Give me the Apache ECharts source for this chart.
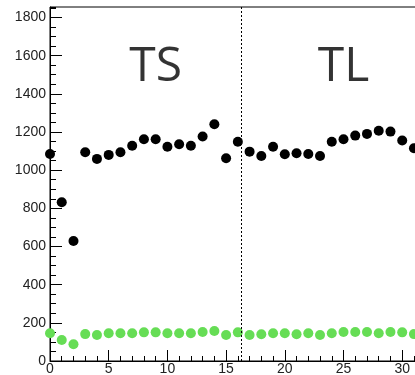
<!DOCTYPE html>
<html>
<head>
<meta charset="utf-8">
<script src="https://cdn.jsdelivr.net/npm/echarts@6/dist/echarts.min.js"></script>
<style>
  html, body { margin: 0; padding: 0; background: #fff; }
  #chart { width: 415px; height: 375px; }
</style>
</head>
<body>
<div id="chart"></div>
<script>
// Run index on the x axis
const runIndex = [0, 1, 2, 3, 4, 5, 6, 7, 8, 9, 10, 11, 12, 13, 14, 15,
                  16, 17, 18, 19, 20, 21, 22, 23, 24, 25, 26, 27, 28, 29, 30, 31];
// Total rate per run (black markers)
const totalRate = [1085, 832, 629, 1094, 1059, 1080, 1094, 1128, 1162, 1162, 1123, 1136,
                   1128, 1176, 1241, 1062, 1149, 1097, 1074, 1123, 1083, 1089, 1085, 1074,
                   1149, 1162, 1181, 1190, 1207, 1202, 1155, 1115];
// Selected rate per run (green markers)
const selectedRate = [145, 110, 88, 141, 136, 145, 145, 145, 150, 150, 145, 145,
                      145, 152, 157, 136, 150, 136, 140, 145, 145, 140, 145, 136,
                      145, 152, 152, 152, 145, 152, 150, 141];
// Region boundary and region names
const boundary = 16.3;
const regions = [
  { name: 'TS', x: 9, y: 1538 },
  { name: 'TL', x: 25, y: 1538 }
];
// Axis ranges
const xMax = 31.26;
const yMax = 1855;

const labelFont = { fontFamily: 'Liberation Sans', fontSize: 14, color: '#222' };

const chart = echarts.init(document.getElementById('chart'), null, { renderer: 'canvas' });
chart.setOption({
  animation: false,
  backgroundColor: '#fff',
  grid: {
    left: 50, top: 7, right: -2, bottom: 14,
    show: true, borderColor: '#000', borderWidth: 1,
    containLabel: false, outerBoundsMode: 'none'
  },
  xAxis: [
    {
      type: 'value', min: 0, max: xMax, interval: 5, position: 'bottom',
      axisLine: { lineStyle: { color: '#000', width: 1 } },
      axisTick: { inside: true, length: 11, lineStyle: { color: '#000' } },
      axisLabel: Object.assign({
        margin: 1,
        showMaxLabel: false,
        formatter: v => (v % 5 === 0 && v <= 30) ? String(v) : ''
      }, labelFont),
      splitLine: { show: false }
    },
    {
      type: 'value', min: 0, max: xMax, interval: 1, position: 'bottom',
      axisLine: { show: false },
      axisTick: { inside: true, length: 5, lineStyle: { color: '#000' } },
      axisLabel: { show: false },
      splitLine: { show: false }
    }
  ],
  yAxis: [
    {
      type: 'value', min: 0, max: yMax, interval: 200, position: 'left',
      axisLine: { show: true, lineStyle: { color: '#000', width: 1 } },
      axisTick: { show: true, inside: true, length: 12, lineStyle: { color: '#000' } },
      axisLabel: Object.assign({
        margin: 4,
        showMaxLabel: false,
        formatter: v => (v % 200 === 0 && v <= 1800) ? String(v) : ''
      }, labelFont),
      splitLine: { show: false }
    },
    {
      type: 'value', min: 0, max: yMax, interval: 50, position: 'left',
      axisLine: { show: false },
      axisTick: { show: true, inside: true, length: 6, lineStyle: { color: '#000' } },
      axisLabel: { show: false },
      splitLine: { show: false }
    }
  ],
  series: [
    {
      name: 'total',
      type: 'scatter',
      xAxisIndex: 0, yAxisIndex: 0,
      symbol: 'circle', symbolSize: 10,
      itemStyle: { color: '#000', opacity: 1 },
      data: runIndex.map((r, i) => [r, totalRate[i]]),
      markLine: {
        silent: true,
        symbol: ['none', 'none'],
        label: { show: false },
        lineStyle: { color: '#000', width: 1, type: [2, 2] },
        data: [{ xAxis: boundary }]
      },
      z: 3
    },
    {
      name: 'selected',
      type: 'scatter',
      xAxisIndex: 0, yAxisIndex: 0,
      symbol: 'circle', symbolSize: 10,
      itemStyle: { color: '#66dd55', opacity: 1 },
      data: runIndex.map((r, i) => [r, selectedRate[i]]),
      z: 3
    },
    {
      name: 'regions',
      type: 'scatter',
      xAxisIndex: 0, yAxisIndex: 0,
      symbolSize: 0,
      silent: true,
      data: regions.map(r => ({ name: r.name, value: [r.x, r.y] })),
      label: {
        show: true, position: 'inside',
        formatter: p => p.name,
        fontFamily: 'Open Sans', fontSize: 48, color: '#000'
      }
    }
  ]
});
</script>
</body>
</html>
